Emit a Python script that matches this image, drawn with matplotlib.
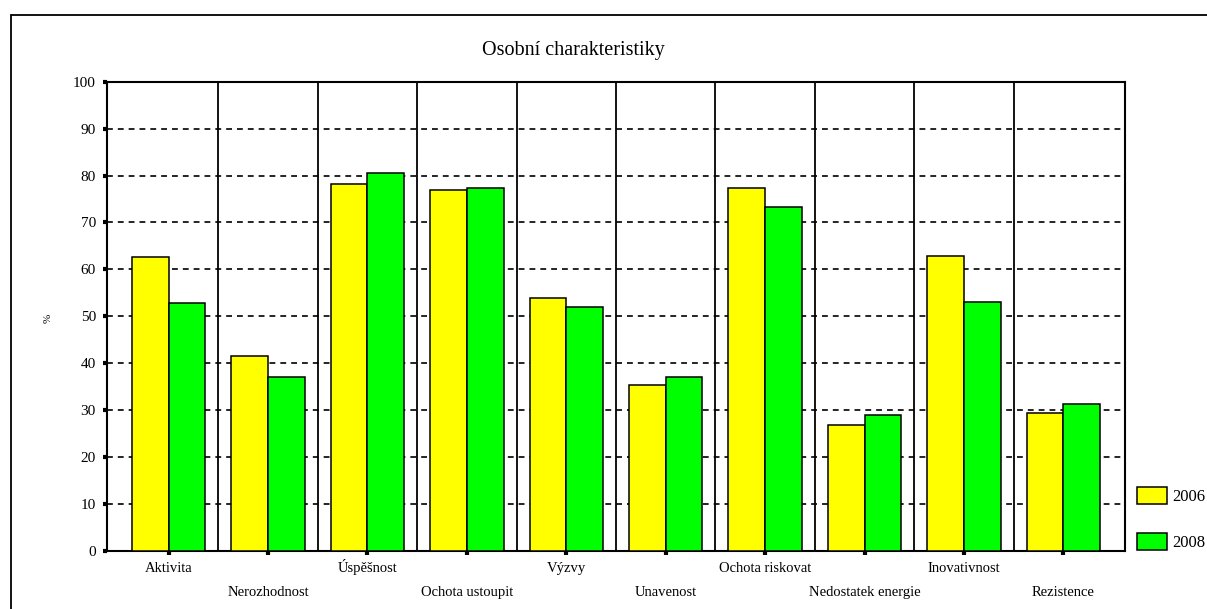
import matplotlib.pyplot as plt
import numpy as np
from matplotlib.patches import Rectangle

plt.rcParams['font.family'] = ['Liberation Serif', 'DejaVu Serif']

kategorie = ["Aktivita", "Nerozhodnost", "Úspěšnost", "Ochota ustoupit", "Výzvy",
             "Unavenost", "Ochota riskovat", "Nedostatek energie", "Inovativnost", "Rezistence"]
rok2006 = [62.7, 41.6, 78.3, 76.9, 54.0, 35.3, 77.3, 26.9, 62.9, 29.3]
rok2008 = [52.8, 37.0, 80.6, 77.3, 52.0, 37.0, 73.2, 29.0, 53.1, 31.3]
roky = ["2006", "2008"]
barvy = ["#ffff00", "#00ff00"]

W, H = 1207, 609
fig = plt.figure(figsize=(W / 100, H / 100), dpi=100)
ax_h = 551 - 81.7
ax = fig.add_axes([107 / W, 1 - 551 / H, (1125 - 107) / W, ax_h / H])

# vnejsi ramecek
fig.patches.append(Rectangle((11 / W, -0.1), 1.2, 1 - 14.7 / H + 0.1, transform=fig.transFigure,
                             fill=False, edgecolor="black", linewidth=1.3))

x = np.arange(len(kategorie))
w = 0.37
b1 = ax.bar(x - w / 2, rok2006, w, color=barvy[0], edgecolor="black", linewidth=1.1, zorder=3, label=roky[0])
b2 = ax.bar(x + w / 2, rok2008, w, color=barvy[1], edgecolor="black", linewidth=1.1, zorder=3, label=roky[1])

for k in range(len(kategorie) - 1):
    ax.axvline(k + 0.5, color="black", linewidth=1.3, zorder=2)

ax.set_xlim(-0.62, len(kategorie) - 1 + 0.62)
ax.set_ylim(0, 100)
ax.set_yticks(np.arange(0, 101, 10))
ax.yaxis.grid(True, color="black", linestyle=(0, (3.5, 3)), linewidth=1.2, zorder=1)
ax.set_axisbelow(True)

ax.tick_params(axis="both", direction="out", length=3, width=3, pad=5)
ax.tick_params(axis="y", labelsize=11)
ax.tick_params(axis="x", labelsize=10.5)

ax.set_xticks(x)
ax.set_xticklabels(kategorie)
offset = 8 * 100 / 72  # length + pad in px
for i, lab in enumerate(ax.get_xticklabels()):
    lab.set_verticalalignment("baseline")
    base = 21 if i % 2 == 0 else 45
    lab.set_y(-(base - offset) / ax_h)

for s in ax.spines.values():
    s.set_linewidth(1.5)

fig.text(573 / W, 1 - 51 / H, "Osobní charakteristiky", ha="center", va="center", fontsize=14.5)
fig.text(48 / W, 1 - 318 / H, "%", rotation=90, ha="center", va="center", fontsize=8)

fs = 12
px = fs * 100 / 72
ax.legend(handles=[b1, b2], loc="upper left", bbox_to_anchor=(1137 / W, 1 - 487 / H),
          bbox_transform=fig.transFigure, frameon=False, fontsize=fs, borderpad=0,
          handlelength=30 / px, handleheight=20 / px, labelspacing=28 / px,
          handletextpad=5 / px, borderaxespad=0)

fig.savefig("out.png", dpi=100)
